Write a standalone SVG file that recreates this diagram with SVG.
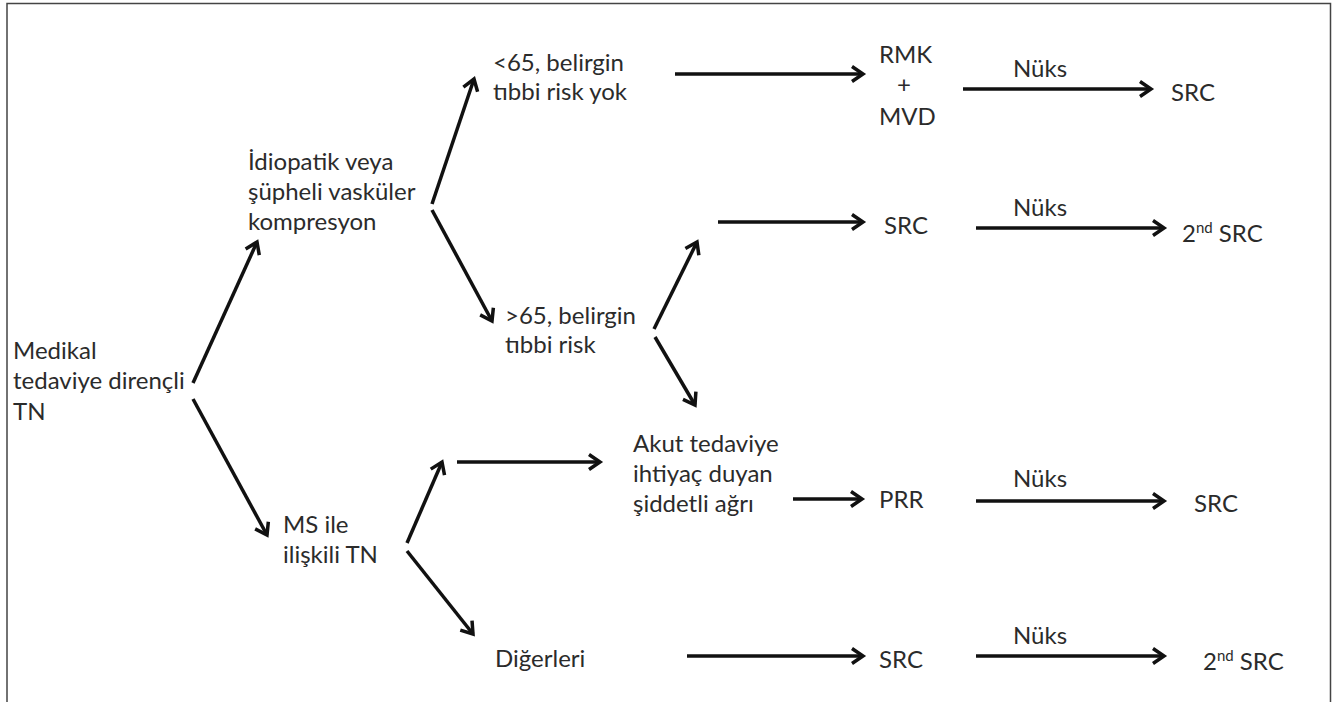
<svg xmlns="http://www.w3.org/2000/svg" width="1337" height="702" viewBox="0 0 1337 702">
<style>
text{font-family:Lato,"Open Sans","Liberation Sans",sans-serif;font-size:24px;fill:#2b2b2b}
.c line{stroke:#111;stroke-width:3.5;marker-end:url(#ah)}
.sup{font-size:15px}
</style>
<defs>
<marker id="ah" markerUnits="userSpaceOnUse" markerWidth="24" markerHeight="24" viewBox="-16 -12 24 24" refX="0" refY="0" orient="auto">
<path d="M-11,-7.5 L0,0 L-11,7.5" fill="none" stroke="#111" stroke-width="3.5"/>
</marker>
</defs>
<rect width="1337" height="702" fill="#fff"/>
<path d="M7,702 V3.5 H1330.5 V702" fill="none" stroke="#444" stroke-width="1.5"/>
<g id="n-medikal"><text x="13" y="359">Medikal</text><text x="13" y="389">tedaviye dirençli</text><text x="13" y="420">TN</text></g>
<g id="n-idiopatik"><text x="248" y="170">İdiopatik veya</text><text x="248" y="200">şüpheli vasküler</text><text x="248" y="230">kompresyon</text></g>
<g id="n-lt65"><text x="493" y="71">&lt;65, belirgin</text><text x="493" y="100">tıbbi risk yok</text></g>
<g id="n-gt65"><text x="505" y="324">&gt;65, belirgin</text><text x="505" y="353">tıbbi risk</text></g>
<g id="n-rmk"><text x="879" y="63">RMK</text><text x="904" y="93" text-anchor="middle">+</text><text x="879" y="125">MVD</text></g>
<g id="n-src1"><text x="1171" y="101">SRC</text></g>
<g id="n-src2"><text x="884" y="234">SRC</text></g>
<g id="n-2src1"><text x="1182" y="242">2<tspan class="sup" dy="-9">nd</tspan><tspan dy="9"> SRC</tspan></text></g>
<g id="n-ms"><text x="283" y="533">MS ile</text><text x="283" y="563">ilişkili TN</text></g>
<g id="n-akut"><text x="633" y="452">Akut tedaviye</text><text x="633" y="482">ihtiyaç duyan</text><text x="633" y="512">şiddetli ağrı</text></g>
<g id="n-prr"><text x="879" y="508">PRR</text></g>
<g id="n-src3"><text x="1194" y="512">SRC</text></g>
<g id="n-diger"><text x="495" y="667">Diğerleri</text></g>
<g id="n-src4"><text x="879" y="668">SRC</text></g>
<g id="n-2src2"><text x="1203" y="670">2<tspan class="sup" dy="-9">nd</tspan><tspan dy="9"> SRC</tspan></text></g>
<g id="labels"><text x="1013" y="77">Nüks</text><text x="1013" y="216">Nüks</text><text x="1013" y="487">Nüks</text><text x="1013" y="644">Nüks</text></g>
<g id="connectors" class="c">
<line x1="193" y1="383" x2="257" y2="242"/>
<line x1="193" y1="399" x2="267" y2="535"/>
<line x1="432" y1="204" x2="474" y2="79"/>
<line x1="432" y1="210" x2="492" y2="321"/>
<line x1="675" y1="74" x2="863" y2="74"/>
<line x1="963" y1="89" x2="1151" y2="89"/>
<line x1="654" y1="329" x2="697" y2="242"/>
<line x1="718" y1="222" x2="863" y2="222"/>
<line x1="976" y1="228" x2="1164" y2="228"/>
<line x1="655" y1="337" x2="695" y2="405"/>
<line x1="407" y1="543" x2="442" y2="462"/>
<line x1="457" y1="462" x2="600" y2="462"/>
<line x1="793" y1="499" x2="862" y2="499"/>
<line x1="976" y1="501" x2="1164" y2="501"/>
<line x1="407" y1="551" x2="473" y2="634"/>
<line x1="687" y1="656" x2="863" y2="656"/>
<line x1="976" y1="656" x2="1164" y2="656"/>
</g>
</svg>
